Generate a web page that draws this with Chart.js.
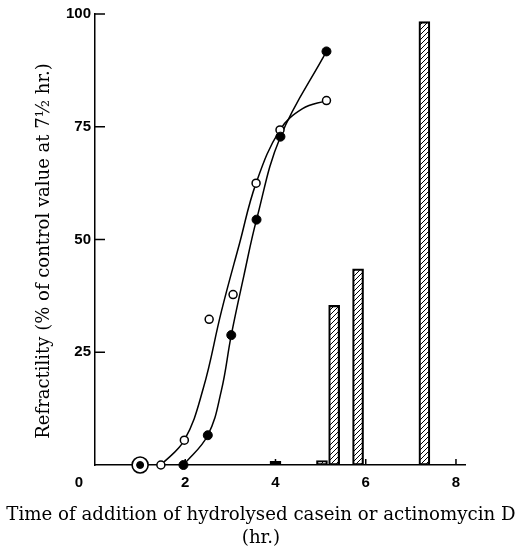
<!DOCTYPE html>
<html>
<head>
    <title>Refractility</title>
    <script src="https://cdn.jsdelivr.net/npm/chart.js@4.4.1/dist/chart.umd.min.js"></script>
    <style>
        body { margin: 0; background: #fff; }
    </style>
</head>
<body>
    <canvas id="myChart" width="522" height="550"></canvas>

    <script>
        // open circles (hydrolysed casein)
        const openX = [1.46, 1.98, 2.53, 3.06, 3.57, 4.1, 5.13];
        const openY = [0, 5.5, 32.3, 37.8, 62.5, 74.3, 80.8];
        // filled circles
        const filledX = [1.96, 2.5, 3.02, 3.58, 4.11, 5.13];
        const filledY = [0, 6.6, 28.8, 54.4, 72.8, 91.7];
        // circled point where the curves start
        const circledX = [1.0];
        const circledY = [0];

        // fitted curves
        const openCurveX = [1.46, 1.98, 2.4, 2.8, 3.2, 3.57, 4.1, 4.6, 5.13];
        const openCurveY = [0, 5.5, 17, 34, 49, 62.5, 74.3, 79, 80.8];
        const filledCurveX = [1.96, 2.5, 2.8, 3.02, 3.3, 3.58, 4.11, 5.13];
        const filledCurveY = [0, 6.6, 16.5, 28.8, 42, 54.4, 72.8, 91.7];

        // actinomycin D bars
        const barX = [4.0, 5.03, 5.3, 5.83, 7.3];
        const barY = [0.8, 1.0, 35.4, 43.5, 98.3];

        const xTicks = [0, 2, 4, 6, 8];
        const yTicks = [0, 25, 50, 75, 100];

        const toPts = (xs, ys) => xs.map((x, i) => ({ x: x, y: ys[i] }));

        function hatchPattern() {
            const c = document.createElement('canvas');
            c.width = 5;
            c.height = 5;
            const g = c.getContext('2d');
            g.strokeStyle = '#000';
            g.lineWidth = 1;
            g.beginPath();
            g.moveTo(-1, 6); g.lineTo(6, -1);
            g.moveTo(-1, 1); g.lineTo(1, -1);
            g.moveTo(4, 6); g.lineTo(6, 4);
            g.stroke();
            return g.createPattern(c, 'repeat');
        }

        const tickFont = { family: 'Liberation Sans', size: 15, weight: 'bold' };
        const titleFont = { family: 'DejaVu Serif', size: 18.2, weight: 'normal', lineHeight: '23px' };

        // short inward tick marks and the shared "0" at the corner
        const inTicks = {
            id: 'inTicks',
            beforeDatasetsDraw(chart) {
                const { ctx, chartArea, scales } = chart;
                ctx.save();
                ctx.strokeStyle = '#000';
                ctx.lineWidth = 1.5;
                ctx.beginPath();
                yTicks.filter(v => v > 0).forEach(v => {
                    const py = scales.y.getPixelForValue(v);
                    ctx.moveTo(chartArea.left, py);
                    ctx.lineTo(chartArea.left + 10, py);
                });
                xTicks.filter(v => v > 0).forEach(v => {
                    const px = scales.x.getPixelForValue(v);
                    ctx.moveTo(px, chartArea.bottom);
                    ctx.lineTo(px, chartArea.bottom - 6);
                });
                ctx.stroke();
                ctx.fillStyle = '#000';
                ctx.font = 'bold 15px "Liberation Sans"';
                ctx.textAlign = 'center';
                ctx.textBaseline = 'middle';
                ctx.fillText('0', chartArea.left - 16, chartArea.bottom + 18);
                ctx.restore();
            }
        };

        const ctx = document.getElementById('myChart').getContext('2d');
        new Chart(ctx, {
            type: 'scatter',
            data: {
                datasets: [
                    {
                        type: 'scatter',
                        data: toPts(circledX, circledY),
                        pointRadius: 3.5,
                        backgroundColor: '#000',
                        borderColor: '#000',
                        borderWidth: 1,
                        clip: false,
                        order: 0
                    },
                    {
                        type: 'scatter',
                        data: toPts(circledX, circledY),
                        pointRadius: 8,
                        backgroundColor: '#fff',
                        borderColor: '#000',
                        borderWidth: 1.6,
                        clip: false,
                        order: 1
                    },
                    {
                        type: 'scatter',
                        data: toPts(filledX, filledY),
                        pointRadius: 4.5,
                        backgroundColor: '#000',
                        borderColor: '#000',
                        borderWidth: 1,
                        clip: false,
                        order: 2
                    },
                    {
                        type: 'scatter',
                        data: toPts(openX, openY),
                        pointRadius: 4,
                        backgroundColor: '#fff',
                        borderColor: '#000',
                        borderWidth: 1.5,
                        clip: false,
                        order: 3
                    },
                    {
                        type: 'line',
                        data: toPts(openCurveX, openCurveY),
                        borderColor: '#000',
                        borderWidth: 1.5,
                        pointRadius: 0,
                        tension: 0.4,
                        fill: false,
                        clip: false,
                        order: 5
                    },
                    {
                        type: 'line',
                        data: toPts(filledCurveX, filledCurveY),
                        borderColor: '#000',
                        borderWidth: 1.5,
                        pointRadius: 0,
                        tension: 0.4,
                        fill: false,
                        clip: false,
                        order: 6
                    },
                    {
                        type: 'bar',
                        data: toPts(barX, barY),
                        backgroundColor: hatchPattern(),
                        borderColor: '#000',
                        borderWidth: 1.5,
                        borderSkipped: false,
                        barThickness: 11,
                        order: 7
                    }
                ]
            },
            options: {
                responsive: false,
                animation: false,
                events: [],
                layout: { padding: { left: 0, top: 14, right: 0, bottom: 0 } },
                plugins: {
                    legend: { display: false },
                    tooltip: { enabled: false },
                    title: {
                        display: true,
                        position: 'bottom',
                        text: ['Time of addition of hydrolysed casein or actinomycin D', '(hr.)'],
                        color: '#000',
                        font: titleFont,
                        padding: { top: 0, bottom: 0 }
                    }
                },
                scales: {
                    x: {
                        type: 'linear',
                        min: 0,
                        max: 8.2,
                        offset: false,
                        grid: { display: false, drawTicks: false },
                        border: { display: true, color: '#000', width: 1.5 },
                        ticks: {
                            stepSize: 2,
                            includeBounds: false,
                            padding: 9,
                            color: '#000',
                            font: tickFont,
                            callback: v => (xTicks.includes(v) && v > 0 ? String(v) : '')
                        },
                        afterFit: s => { s.height = 39; }
                    },
                    y: {
                        min: 0,
                        max: 100,
                        grid: { display: false, drawTicks: false },
                        border: { display: true, color: '#000', width: 1.5 },
                        ticks: {
                            stepSize: 25,
                            padding: 4,
                            color: '#000',
                            font: tickFont,
                            callback: v => (v > 0 ? String(v) : '')
                        },
                        title: {
                            display: true,
                            // trailing spaces nudge the centred title down a little
                            text: 'Refractility (% of control value at 7\u00BD hr.)    ',
                            color: '#000',
                            font: { family: 'DejaVu Serif', size: 18 },
                            padding: { top: 34, bottom: 0 }
                        },
                        afterFit: s => { s.width = 95; }
                    },
                    // empty right-hand margin, keeps the bottom title centred on the page
                    yRight: {
                        position: 'right',
                        min: 0,
                        max: 100,
                        grid: { display: false, drawTicks: false },
                        border: { display: false },
                        ticks: { display: false },
                        afterFit: s => { s.width = 57; }
                    }
                }
            },
            plugins: [inTicks]
        });
    </script>
</body>
</html>
